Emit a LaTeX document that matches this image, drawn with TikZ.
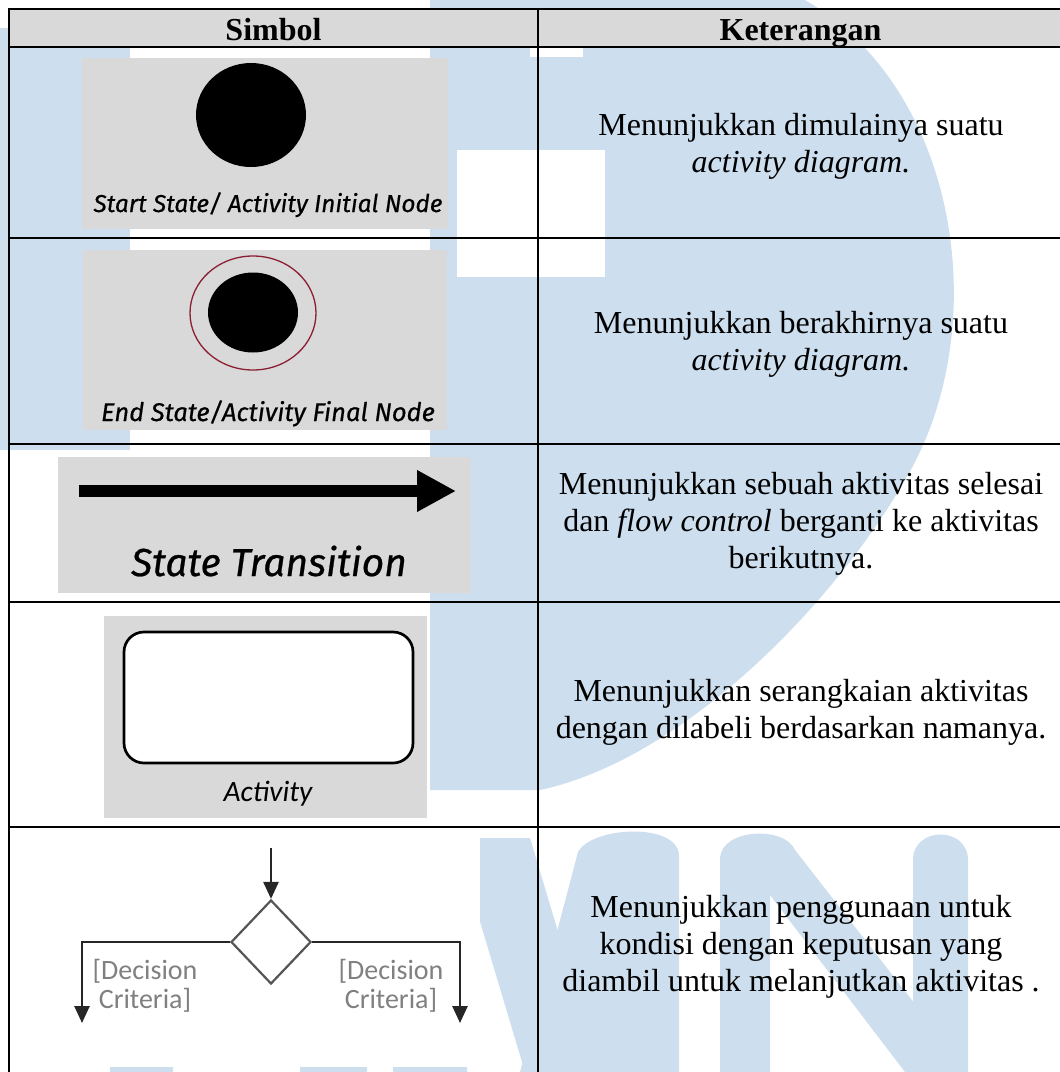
\documentclass[tikz,border=0pt]{standalone}
\usepackage{fontspec}
\setmainfont{Liberation Serif}
\newfontfamily\dinfont{Fira Sans}[FakeBold=0.6]
\newfontfamily\calfont{Carlito}
\usetikzlibrary{arrows.meta,shapes.geometric}
\definecolor{wmblue}{RGB}{205,222,238}
\definecolor{symgray}{RGB}{217,217,217}
\definecolor{labgray}{RGB}{128,128,128}
\definecolor{diagray}{RGB}{85,85,85}
\definecolor{ringred}{RGB}{140,30,50}

\begin{document}
\begin{tikzpicture}[x=1pt,y=-1pt,
  grid/.style={line width=2.5pt, line cap=rect},
  desc/.style={align=center, font=\fontsize{32}{37}\selectfont},
  head/.style={anchor=base, font=\fontsize{32}{37}\selectfont\bfseries},
  caption/.style={anchor=base, font=\dinfont\itshape\fontsize{#1}{#1}\selectfont},
  crit/.style={align=center, text=labgray, font=\calfont\fontsize{28}{29}\selectfont},
  flow/.style={draw=black!85, line width=2.6pt, -{Triangle[width=15pt,length=17pt]}}]
  \useasboundingbox (0,0) rectangle (1060,1072);

  %%%%% watermark %%%%%
  \fill[wmblue] (0,28) rectangle (130,450);
  \fill[wmblue] (430,0) -- (805,0) .. controls (960,90) and (995,330) .. (905,480)
    .. controls (830,610) and (680,760) .. (540,790) -- (430,790) -- cycle;
  \fill[white] (457,150) rectangle (605,277);
  \fill[white] (530,47) rectangle (583,57);
  \foreach \xa/\xb in {110/173, 300/367, 393/467}
    \fill[wmblue] (\xa,1072) -- (\xa,850) arc[start angle=180, end angle=0, x radius={(\xb-\xa)/2}, y radius=17] -- (\xb,1072) -- cycle;
  \fill[wmblue] (455,838) -- (530,838) -- (600,1072) -- (525,1072) -- cycle;
  \fill[wmblue] (520,1072) -- (578,852) .. controls (592,826) and (679,822) .. (679,856) -- (679,1072) -- cycle;
  \fill[wmblue] (720,1072) -- (720,858) .. controls (722,828) and (785,826) .. (795,850)
    -- (968,1072) -- (905,1072) -- (770,895) -- (770,1072) -- cycle;
  \fill[wmblue] (913,1072) -- (913,860) .. controls (913,826) and (968,826) .. (968,860) -- (968,1072) -- cycle;

  %%%%% header %%%%%
  \fill[symgray] (9,9) rectangle (1063,47);
  \node[head] (hsym) at (273.5,40) {Simbol};
  \node[head] (hket) at (800.5,40) {Keterangan};

  %%%%% start state %%%%%
  \fill[symgray] (82,58) rectangle (448,229);
  \node[ellipse, fill=black, inner sep=0pt, minimum width=110pt, minimum height=104pt] (st) at (251,115) {};
  \node[caption=24.4] (stlab) at (268,212) {Start State/ Activity Initial Node};

  %%%%% end state %%%%%
  \fill[symgray] (83,250) rectangle (447,430);
  \node[ellipse, draw=ringred, line width=1.3pt, inner sep=0pt, minimum width=126pt, minimum height=114pt] (endring) at (253,313) {};
  \node[ellipse, fill=black, inner sep=0pt, minimum width=90pt, minimum height=80pt] (enddot) at (253,312.5) {};
  \node[caption=25.6] (endlab) at (268,421) {End State/Activity Final Node};

  %%%%% state transition %%%%%
  \fill[symgray] (58,457) rectangle (471,593);
  \coordinate (trA) at (79,491);
  \coordinate (trB) at (456,491);
  \draw[line width=12pt, -{Triangle[width=39pt,length=39pt]}] (trA) -- (trB);
  \node[caption=39] (trlab) at (269,576) {State Transition};

  %%%%% activity %%%%%
  \fill[symgray] (104,616) rectangle (427,818);
  \node[draw, fill=white, line width=2.7pt, rounded corners=20pt, minimum width=289pt, minimum height=131pt] (act) at (268.5,697.5) {};
  \node[anchor=base, font=\calfont\itshape\fontsize{29.5}{30}\selectfont] (actlab) at (268,801) {Activity};

  %%%%% decision %%%%%
  \fill[white] (12,838) rectangle (480,1067);
  \node[diamond, draw=diagray, line width=2.2pt, inner sep=0pt, minimum width=80pt, minimum height=84pt] (dec) at (271,942) {};
  \coordinate (decin) at (271,848);
  \coordinate (decL) at (82,1023);
  \coordinate (decR) at (460,1023);
  \draw[flow] (decin) -- (dec.north);
  \draw[flow] (dec.west) -| (decL);
  \draw[flow] (dec.east) -| (decR);
  \node[crit] (critL) at (145,986) {[Decision\\Criteria]};
  \node[crit] (critR) at (391,986) {[Decision\\Criteria]};

  %%%%% descriptions %%%%%
  \node[desc] (k1) at (801,146) {Menunjukkan dimulainya suatu\\\textit{activity diagram.}};
  \node[desc] (k2) at (801,344) {Menunjukkan berakhirnya suatu\\\textit{activity diagram.}};
  \node[desc] (k3) at (801,523.5) {Menunjukkan sebuah aktivitas selesai\\dan \textit{flow control} berganti ke aktivitas\\berikutnya.};
  \node[desc] (k4) at (801,712) {Menunjukkan serangkaian aktivitas\\dengan dilabeli berdasarkan namanya.};
  \node[desc] (k5) at (801,946.5) {Menunjukkan penggunaan untuk\\kondisi dengan keputusan yang\\diambil untuk melanjutkan aktivitas .};

  %%%%% grid %%%%%
  \foreach \y in {9,47,238,444,602,827}
    \draw[grid] (9,\y) -- (1063,\y);
  \draw[grid] (9,9) -- (9,1072);
  \draw[grid] (538,9) -- (538,1072);
\end{tikzpicture}
\end{document}
